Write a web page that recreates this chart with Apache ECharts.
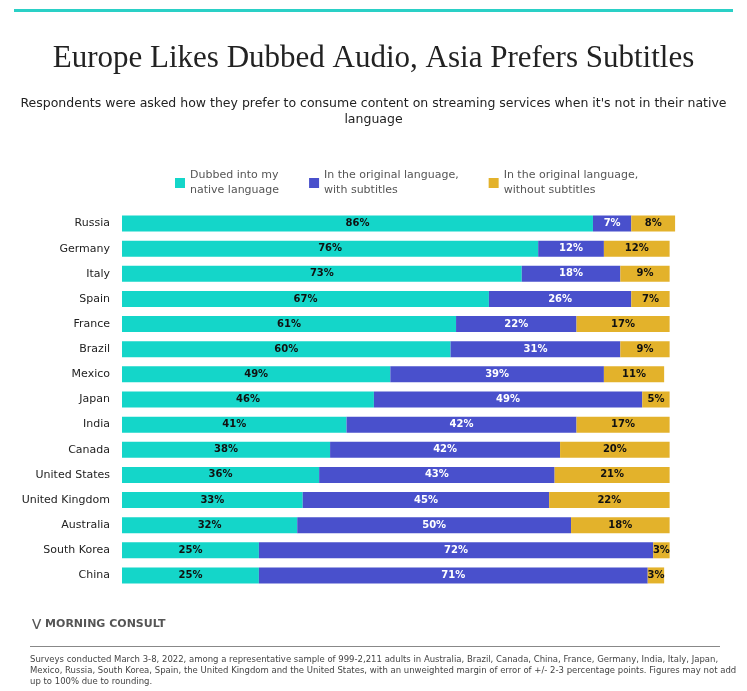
<!DOCTYPE html>
<html><head><meta charset="utf-8">
<script src="https://cdn.jsdelivr.net/npm/echarts@6/dist/echarts.min.js"></script>
<style>html,body{margin:0;padding:0;background:#fff}#c{width:747px;height:691px}</style>
</head><body><div id="c"></div>
<script>
const categories = ["Russia","Germany","Italy","Spain","France","Brazil","Mexico","Japan","India","Canada","United States","United Kingdom","Australia","South Korea","China"];
const dubbed = [86,76,73,67,61,60,49,46,41,38,36,33,32,25,25];
const withSubs = [7,12,18,26,22,31,39,49,42,42,43,45,50,72,71];
const withoutSubs = [8,12,9,7,17,9,11,5,17,20,21,22,18,3,3];
const seriesNames = ["Dubbed into my\nnative language","In the original language,\nwith subtitles","In the original language,\nwithout subtitles"];
const colors = ["#14d6c9","#4950cc","#e3b22b"];
const chart = echarts.init(document.getElementById('c'));
const lab = (c)=>({show:true,position:'inside',formatter:'{c}%',color:c,fontSize:10,fontWeight:'bold',fontFamily:'Verdana, DejaVu Sans'});
const mk=(i,data,lc)=>({name:seriesNames[i],type:'bar',stack:'a',data,barWidth:16,itemStyle:{color:colors[i]},label:lab(lc)});
chart.setOption({
  animation:false,
  title:{text:'Europe Likes Dubbed Audio, Asia Prefers Subtitles',left:'center',top:38,
    textStyle:{fontFamily:'Liberation Serif, serif',fontWeight:'normal',fontSize:31,color:'#222'},
    subtext:"Respondents were asked how they prefer to consume content on streaming services when it's not in their native\nlanguage",
    subtextStyle:{fontFamily:'Verdana, DejaVu Sans',fontSize:12.5,color:'#222',lineHeight:16,align:'center'},itemGap:22},
  legend:{top:163,left:170,itemWidth:10,itemHeight:10,icon:'rect',itemGap:30,
    textStyle:{fontSize:11,color:'#555',fontFamily:'Verdana, DejaVu Sans',lineHeight:15}},
  grid:{left:122,right:50,top:211,bottom:103},
  xAxis:{type:'value',min:0,max:105,show:false},
  yAxis:{type:'category',data:categories,inverse:true,axisLine:{show:false},axisTick:{show:false},
    axisLabel:{color:'#222',fontSize:11,fontFamily:'Verdana, DejaVu Sans',margin:12}},
  series:[mk(0,dubbed,'#111'),mk(1,withSubs,'#fff'),mk(2,withoutSubs,'#111')],
  graphic:[
    {type:'rect',left:14,top:9,shape:{width:719,height:3},style:{fill:'#2ad0c6'}},
    {type:'text',left:32,top:619,style:{text:'⋁ MORNING CONSULT',fill:'#555',font:'bold 11px Verdana, DejaVu Sans'}},
    {type:'rect',left:30,top:646,shape:{width:690,height:1},style:{fill:'#888'}},
    {type:'text',left:30,top:654,style:{text:'Surveys conducted March 3-8, 2022, among a representative sample of 999-2,211 adults in Australia, Brazil, Canada, China, France, Germany, India, Italy, Japan,\nMexico, Russia, South Korea, Spain, the United Kingdom and the United States, with an unweighted margin of error of +/- 2-3 percentage points. Figures may not add\nup to 100% due to rounding.',fill:'#444',font:'8.5px Verdana, DejaVu Sans',lineHeight:11}}
  ]
});
</script></body></html>
